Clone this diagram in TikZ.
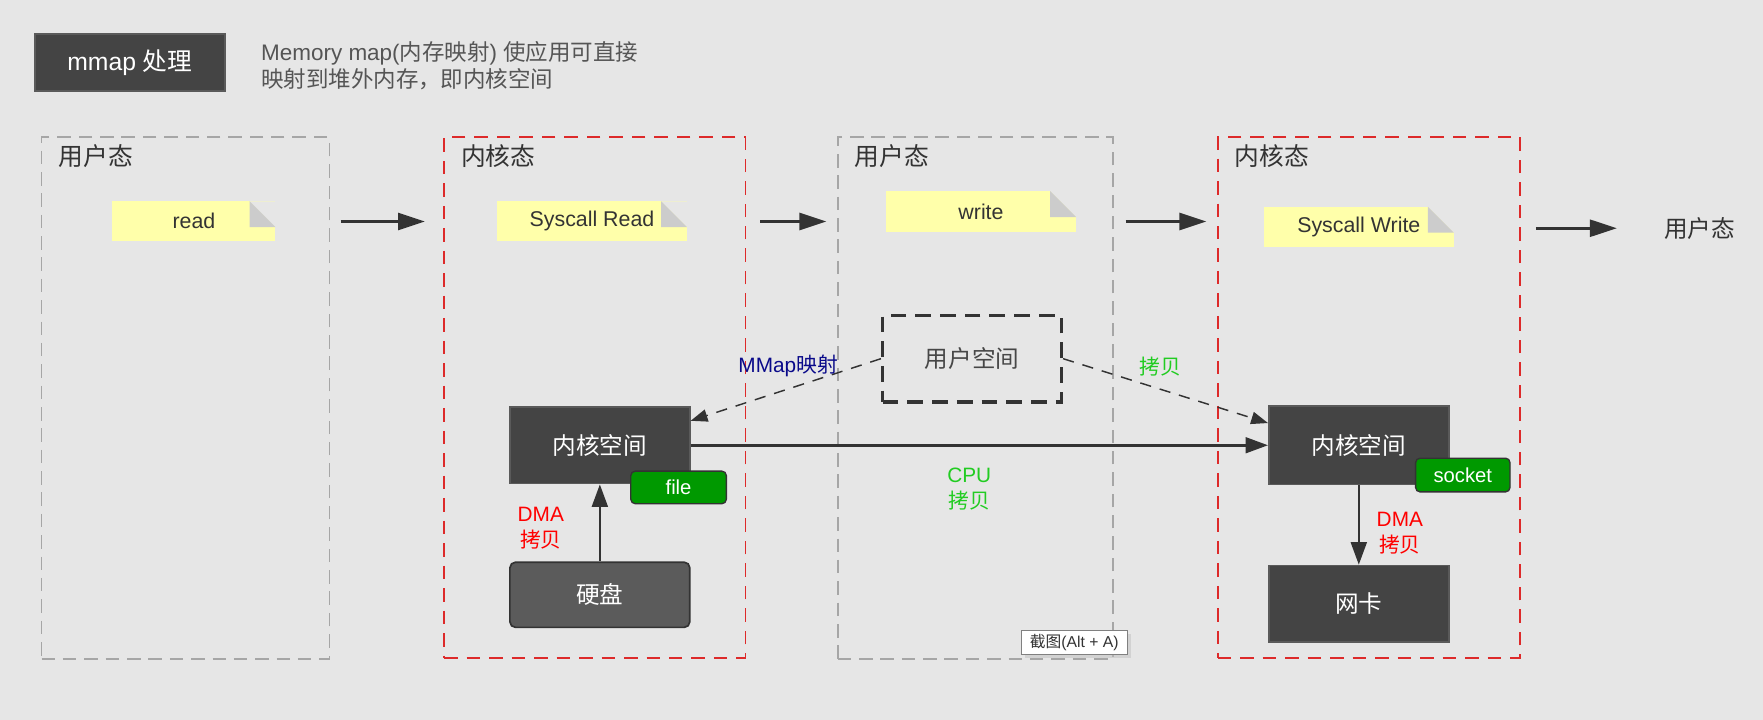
\documentclass[tikz,border=0pt]{standalone}
\usepackage{fontspec}
\setmainfont{Liberation Sans}
\newfontfamily\cjk{Noto Sans CJK SC}
\newcommand{\hanzi}[1]{{\cjk #1}}
\usetikzlibrary{arrows.meta,shadows}
\definecolor{bgfill}{HTML}{E6E6E6}
\definecolor{boxfill}{HTML}{444444}
\definecolor{boxedge}{HTML}{5A5A5A}
\definecolor{diskfill}{HTML}{5B5B5B}
\definecolor{zonegray}{HTML}{A6A6A6}
\definecolor{zonered}{HTML}{DD2A2A}
\definecolor{memoyellow}{HTML}{FFFFAA}
\definecolor{foldgray}{HTML}{CCCCCC}
\definecolor{tagfill}{HTML}{009900}
\definecolor{cpugreen}{HTML}{22CC22}
\definecolor{mapblue}{HTML}{0A0A8A}
\definecolor{inkdark}{HTML}{333333}
\definecolor{descgray}{HTML}{555555}

\begin{document}
\begin{tikzpicture}[x=1pt,y=-1pt,
    grayzone/.style={draw=zonegray,line width=1.5pt,dash pattern=on 12pt off 7pt,minimum height=464pt},
    redzone/.style={draw=zonered,line width=1.6pt,dash pattern=on 12pt off 8pt,minimum height=463pt},
    zonetitle/.style={anchor=west,inner sep=0pt,text=inkdark,font=\fontsize{22}{26}\selectfont},
    memo/.style={fill=memoyellow,inner sep=0pt,minimum height=35pt,text=inkdark,
      font=\fontsize{19}{22}\selectfont,
      path picture={
        \fill[bgfill] (path picture bounding box.north east) -- ++(-23pt,0pt) -- ++(23pt,-23pt) -- cycle;
        \fill[foldgray] (path picture bounding box.north east) ++(-23pt,0pt) -- ++(0pt,-23pt) -- ++(23pt,0pt) -- cycle;}},
    kbox/.style={draw=boxedge,fill=boxfill,line width=1.5pt,text=white,
      font=\fontsize{21}{25}\selectfont,minimum width=160pt,minimum height=68pt},
    tag/.style={draw=inkdark,fill=tagfill,line width=1.2pt,rounded corners=4pt,text=white,
      font=\fontsize{18}{21}\selectfont,minimum height=29pt},
    stepflow/.style={draw=inkdark,line width=2.7pt,-{Triangle[length=24pt,width=15pt]}},
    copyflow/.style={draw=inkdark,line width=2.3pt,-{Triangle[length=20pt,width=14pt]}},
    mapflow/.style={draw=inkdark,line width=1.3pt,dash pattern=on 10pt off 8pt,-{Triangle[length=15pt,width=11pt]}},
    note/.style={align=center,inner sep=0pt,font=\fontsize{18.5}{23}\selectfont}]

    \fill[bgfill] (0,0) rectangle (1568,640);

    % legend
    \node[draw=boxedge,fill=boxfill,line width=1.5pt,text=white,font=\fontsize{22}{26}\selectfont,
      minimum width=169pt,minimum height=51pt] (legend) at (115.5,55.5) {mmap \hanzi{处理}};
    \node[anchor=west,align=left,inner sep=0pt,text=descgray,font=\fontsize{20}{24}\selectfont] (desc) at (232,58)
      {Memory map(\hanzi{内存映射}) \hanzi{使应用可直接}\\\hanzi{映射到堆外内存，即内核空间}};

    % zones
    \node[grayzone,minimum width=256pt] (user1) at (165,354) {};
    \node[redzone,minimum width=268pt] (kern1) at (529,353.5) {};
    \node[grayzone,minimum width=245pt] (user2) at (867.5,354) {};
    \node[redzone,minimum width=269pt] (kern2) at (1217.5,353.5) {};
    \node[zonetitle] (user1t) at (52,139) {\hanzi{用户态}};
    \node[zonetitle] (kern1t) at (410,139) {\hanzi{内核态}};
    \node[zonetitle] (user2t) at (760,139) {\hanzi{用户态}};
    \node[zonetitle] (kern2t) at (1098,139) {\hanzi{内核态}};

    % calls
    \node[memo,minimum width=145pt] (read) at (172.5,196.5) {read};
    \node[memo,minimum width=169pt] (sysread) at (526.5,196.5) {Syscall Read};
    \node[memo,minimum width=169pt,minimum height=36pt] (write) at (872.5,188) {write};
    \node[memo,minimum width=169pt,minimum height=36pt] (syswrite) at (1208.5,202) {Syscall Write};
    \node[zonetitle,font=\fontsize{21}{25}\selectfont] (uend) at (1480,203.5) {\hanzi{用户态}};

    \coordinate (r1a) at (303,197); \coordinate (r1b) at (378,197);
    \coordinate (r2a) at (676,197); \coordinate (r2b) at (735,197);
    \coordinate (r3a) at (1001,197); \coordinate (r3b) at (1073,197);
    \coordinate (r4a) at (1366,203); \coordinate (r4b) at (1438,203);
    \draw[stepflow] (r1a) -- (r1b);
    \draw[stepflow] (r2a) -- (r2b);
    \draw[stepflow] (r3a) -- (r3b);
    \draw[stepflow] (r4a) -- (r4b);

    % buffers
    \node[draw=inkdark,line width=3pt,dash pattern=on 14pt off 8pt,text=inkdark!90,
      font=\fontsize{21}{25}\selectfont,minimum width=159pt,minimum height=77pt] (uspace) at (864.5,319) {\hanzi{用户空间}};
    \node[kbox] (kspace1) at (533.5,396) {\hanzi{内核空间}};
    \node[kbox,fill=diskfill,draw=inkdark,rounded corners=5pt,minimum height=58pt] (disk) at (533.5,529) {\hanzi{硬盘}};
    \node[kbox,minimum height=70pt] (kspace2) at (1208.5,396) {\hanzi{内核空间}};
    \node[kbox] (nic) at (1208.5,537) {\hanzi{网卡}};
    \node[tag,minimum width=85pt] (file) at (603.5,433.5) {file};
    \node[tag,minimum width=84pt,minimum height=30pt] (socket) at (1301,422.5) {socket};

    % copies
    \draw[copyflow] (disk) -- (kspace1);
    \draw[copyflow] (kspace1) -- (kspace2);
    \draw[copyflow] (kspace2) -- (nic);
    \draw[mapflow] (uspace.west) -- ([yshift=-13pt]kspace1.north east);
    \draw[mapflow] (uspace.east) -- ([yshift=-16pt]kspace2.north west);
    \node[note,text=red] (dma1) at (481,469.5) {DMA\\\hanzi{拷贝}};
    \node[note,text=red] (dma2) at (1245,474.5) {DMA\\\hanzi{拷贝}};
    \node[note,text=cpugreen] (cpu) at (862,435) {CPU\\\hanzi{拷贝}};
    \node[note,text=cpugreen] (copy) at (1032,326) {\hanzi{拷贝}};
    \node[note,text=mapblue] (mmap) at (701,325) {MMap\hanzi{映射}};

    % screenshot hint
    \node[draw=gray,fill=white,line width=0.8pt,inner sep=0pt,text=inkdark,font=\fontsize{14}{16}\selectfont,
      minimum width=94pt,minimum height=21pt,drop shadow={shadow xshift=3pt,shadow yshift=-3pt,fill=black!25}]
      (hint) at (955.5,571.5) {\hanzi{截图}(Alt + A)};
\end{tikzpicture}
\end{document}
